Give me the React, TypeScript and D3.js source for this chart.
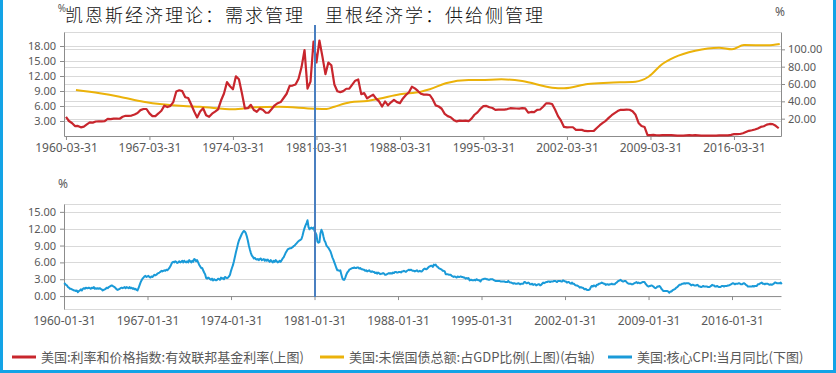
import React, { useEffect, useRef } from 'react';
import * as d3 from 'd3';

const W = 836;
const H = 373;

const title = '凯恩斯经济理论：需求管理　里根经济学：供给侧管理';

// effective fed funds rate, quarter-end months, 1960-03 .. 2019-12
const fedFundsStart = [1960, 2];
const fedFunds = [
  3.84, 3.0, 2.6, 1.98, 2.02, 1.73, 1.88, 2.33, 2.71, 2.68, 2.9, 2.93,
  2.93, 2.99, 3.44, 3.38, 3.48, 3.48, 3.45, 3.85, 4.04, 4.04, 4.08, 4.32,
  4.6, 5.17, 5.4, 5.4, 4.53, 3.98, 3.99, 4.51, 5.05, 6.07, 5.78, 6.02,
  6.79, 8.9, 9.15, 8.97, 7.76, 7.6, 6.29, 4.9, 3.71, 4.91, 5.55, 4.14,
  3.83, 4.46, 4.87, 5.33, 7.09, 8.49, 10.78, 9.95, 9.35, 11.93, 11.34, 8.53,
  5.54, 5.55, 6.24, 5.2, 4.84, 5.48, 5.25, 4.65, 4.69, 5.39, 6.14, 6.56,
  6.79, 7.6, 8.45, 10.03, 10.09, 10.29, 11.43, 13.78, 17.19, 9.47, 10.87, 18.9,
  14.7, 19.1, 15.87, 12.37, 14.68, 14.15, 10.31, 8.95, 8.77, 8.98, 9.45, 9.47,
  10.29, 11.06, 11.3, 8.38, 8.58, 7.53, 7.92, 8.27, 7.48, 6.92, 5.89, 6.91,
  6.13, 6.73, 7.22, 6.77, 6.58, 7.51, 8.19, 8.76, 9.85, 9.53, 9.01, 8.45,
  8.28, 8.29, 8.2, 7.31, 6.12, 5.9, 5.45, 4.43, 3.98, 3.76, 3.22, 2.92,
  3.07, 3.04, 3.09, 2.96, 3.48, 4.25, 4.73, 5.45, 5.98, 6.02, 5.74, 5.6,
  5.22, 5.27, 5.3, 5.29, 5.39, 5.56, 5.54, 5.5, 5.49, 5.56, 5.51, 4.68,
  4.81, 4.76, 5.22, 5.3, 5.85, 6.53, 6.52, 6.4, 5.31, 3.97, 3.07, 1.82,
  1.73, 1.75, 1.75, 1.24, 1.25, 1.22, 1.01, 0.98, 1.0, 1.03, 1.61, 2.16,
  2.63, 3.04, 3.62, 4.16, 4.59, 4.99, 5.25, 5.24, 5.26, 5.25, 4.94, 4.24,
  2.61, 2.0, 1.81, 0.16, 0.18, 0.21, 0.15, 0.12, 0.16, 0.18, 0.19, 0.18,
  0.14, 0.09, 0.08, 0.07, 0.13, 0.16, 0.14, 0.16, 0.14, 0.09, 0.08, 0.09,
  0.08, 0.1, 0.09, 0.12, 0.11, 0.13, 0.14, 0.24, 0.36, 0.38, 0.4, 0.54,
  0.79, 1.04, 1.15, 1.3, 1.51, 1.82, 1.95, 2.27, 2.41, 2.38, 2.04, 1.55,
];

// public debt as % of GDP (right axis)
const debtDates = [
  '1961-01-31', '1963-01-31', '1964-09-30', '1966-09-30', '1970-01-31', '1971-06-30',
  '1974-03-31', '1976-01-31', '1978-01-31', '1981-01-31', '1982-01-31', '1982-09-30',
  '1984-01-31', '1985-06-30', '1986-06-30', '1988-03-31', '1989-12-31', '1990-09-30',
  '1992-01-31', '1993-12-31', '1994-12-31', '1996-09-30', '1998-06-30', '2000-12-31',
  '2001-12-31', '2003-12-31', '2005-09-30', '2007-12-31', '2009-01-31', '2010-03-31',
  '2011-03-31', '2012-12-31', '2014-12-31', '2016-01-31', '2017-01-31', '2019-01-31',
  '2020-01-31',
];
const debtValues = [
  53.1, 49.3, 45.3, 39.6, 34.6, 33.8, 30.8, 33.1, 33.8, 31.5, 31.2, 33.8,
  38.9, 40.5, 43.0, 48.1, 51.1, 53.9, 60.8, 64.6, 64.6, 65.4, 63.5, 55.7,
  55.0, 60.0, 61.5, 62.7, 68.4, 83.1, 90.8, 98.4, 101.9, 100.0, 105.0, 104.6,
  106.2,
];

// core CPI yoy, monthly from 1960-01
const cpiStart = [1960, 0];
const coreCpi = [
  2.3, 2.2, 2.0, 1.9, 1.6, 1.5, 1.3, 1.3, 1.2, 1.1, 1.0, 1.0,
  0.9, 1.0, 0.7, 0.9, 1.0, 1.2, 1.0, 1.3, 1.4, 1.3, 1.5, 1.4,
  1.4, 1.5, 1.4, 1.3, 1.5, 1.4, 1.6, 1.3, 1.4, 1.3, 1.4, 1.3,
  1.4, 1.3, 1.2, 1.0, 1.1, 1.2, 1.3, 1.5, 1.4, 1.6, 1.7, 1.8,
  1.9, 1.8, 1.7, 1.6, 1.4, 1.2, 1.1, 1.2, 1.3, 1.4, 1.5, 1.4,
  1.5, 1.6, 1.4, 1.6, 1.5, 1.4, 1.6, 1.4, 1.5, 1.3, 1.4, 1.2,
  1.3, 1.1, 1.0, 1.4, 1.9, 2.4, 2.8, 3.1, 3.3, 3.5, 3.6, 3.4,
  3.5, 3.6, 3.4, 3.3, 3.5, 3.4, 3.6, 3.8, 3.7, 3.8, 4.0, 4.1,
  4.2, 4.3, 4.5, 4.4, 4.5, 4.6, 4.5, 4.7, 4.6, 4.8, 5.0, 5.3,
  5.7, 6.0, 6.1, 6.0, 6.2, 6.1, 5.9, 6.0, 6.2, 6.0, 6.1, 6.3,
  6.0, 6.3, 6.1, 6.0, 6.2, 6.0, 6.4, 6.2, 6.0, 6.3, 6.1, 6.6,
  6.5, 6.2, 6.4, 6.0, 5.6, 5.3, 5.0, 5.0, 4.6, 4.2, 3.9, 3.2,
  3.1, 3.3, 3.2, 3.0, 2.9, 3.1, 2.8, 3.0, 2.9, 2.8, 2.9, 3.1,
  3.0, 2.9, 3.3, 3.1, 3.2, 3.0, 3.4, 3.3, 3.2, 3.3, 3.5, 3.8,
  4.5, 5.0, 5.5, 6.2, 7.0, 7.8, 8.5, 9.3, 9.9, 10.3, 10.7, 11.1,
  11.4, 11.6, 11.5, 11.2, 10.6, 9.9, 9.0, 8.3, 7.7, 7.2, 7.0, 6.7,
  6.8, 6.6, 6.5, 6.6, 6.4, 6.6, 6.7, 6.4, 6.5, 6.6, 6.3, 6.5,
  6.3, 6.5, 6.3, 6.1, 6.4, 6.2, 6.0, 6.3, 6.1, 6.4, 6.2, 6.0,
  6.1, 6.3, 6.1, 6.4, 6.7, 6.9, 7.3, 7.7, 8.0, 8.3, 8.4, 8.5,
  8.5, 8.6, 8.7, 8.9, 9.0, 9.2, 9.4, 9.6, 9.8, 9.9, 10.0, 10.2,
  10.8, 11.5, 12.1, 12.6, 13.0, 13.5, 12.3, 11.9, 12.1, 12.2, 12.0, 12.2,
  11.6, 11.3, 10.9, 9.7, 9.5, 9.6, 11.2, 11.8, 11.4, 10.6, 9.9, 9.6,
  9.0, 8.8, 8.6, 8.3, 8.0, 7.5, 6.9, 6.5, 6.0, 5.5, 5.0, 4.6,
  4.6, 4.5, 4.6, 3.9, 3.2, 2.9, 2.9, 3.3, 3.8, 4.2, 4.4, 4.7,
  4.8, 4.9, 5.0, 5.0, 5.1, 5.0, 5.0, 5.1, 5.1, 4.9, 5.0, 4.8,
  4.8, 4.7, 4.7, 4.5, 4.6, 4.4, 4.5, 4.6, 4.4, 4.3, 4.4, 4.3,
  4.3, 4.1, 4.2, 4.0, 4.2, 4.1, 3.9, 4.0, 4.0, 4.1, 4.0, 3.8,
  3.8, 3.9, 4.0, 4.1, 4.0, 4.1, 4.0, 4.2, 4.1, 4.3, 4.3, 4.2,
  4.2, 4.3, 4.3, 4.2, 4.4, 4.4, 4.5, 4.4, 4.3, 4.5, 4.6, 4.7,
  4.6, 4.7, 4.6, 4.5, 4.5, 4.4, 4.5, 4.6, 4.4, 4.4, 4.5, 4.4,
  4.4, 4.6, 4.8, 4.9, 4.8, 4.8, 5.0, 5.2, 5.3, 5.4, 5.4, 5.2,
  5.6, 5.5, 5.6, 5.3, 5.2, 5.0, 4.9, 4.8, 4.7, 4.5, 4.5, 4.4,
  3.9, 3.9, 3.9, 3.8, 3.8, 3.8, 3.6, 3.5, 3.4, 3.5, 3.4, 3.3,
  3.5, 3.4, 3.4, 3.5, 3.4, 3.4, 3.3, 3.3, 3.1, 3.2, 3.1, 3.2,
  2.8, 2.9, 2.9, 2.8, 2.8, 2.9, 2.8, 3.0, 2.9, 2.8, 2.8, 2.6,
  2.9, 3.0, 3.0, 3.1, 3.1, 3.0, 3.0, 2.9, 2.9, 3.0, 3.0, 3.0,
  2.9, 2.8, 2.7, 2.7, 2.7, 2.7, 2.7, 2.6, 2.6, 2.6, 2.6, 2.6,
  2.5, 2.5, 2.5, 2.7, 2.5, 2.4, 2.4, 2.3, 2.2, 2.3, 2.2, 2.2,
  2.2, 2.3, 2.2, 2.1, 2.2, 2.2, 2.2, 2.5, 2.5, 2.3, 2.3, 2.4,
  2.3, 2.1, 2.1, 2.2, 2.0, 2.1, 2.1, 1.9, 2.0, 2.1, 2.1, 1.9,
  2.0, 2.2, 2.4, 2.3, 2.4, 2.5, 2.5, 2.6, 2.6, 2.5, 2.6, 2.6,
  2.6, 2.7, 2.7, 2.6, 2.5, 2.7, 2.7, 2.7, 2.6, 2.6, 2.8, 2.7,
  2.6, 2.6, 2.4, 2.5, 2.5, 2.3, 2.2, 2.4, 2.2, 2.2, 2.0, 1.9,
  1.9, 1.8, 1.7, 1.5, 1.6, 1.5, 1.5, 1.3, 1.2, 1.3, 1.1, 1.1,
  1.1, 1.2, 1.6, 1.8, 1.7, 1.9, 1.8, 1.7, 2.0, 2.0, 2.2, 2.2,
  2.3, 2.4, 2.3, 2.2, 2.2, 2.0, 2.1, 2.1, 2.0, 2.1, 2.1, 2.2,
  2.1, 2.1, 2.1, 2.3, 2.4, 2.6, 2.7, 2.8, 2.9, 2.7, 2.6, 2.6,
  2.7, 2.7, 2.5, 2.3, 2.2, 2.2, 2.2, 2.1, 2.1, 2.2, 2.3, 2.4,
  2.5, 2.3, 2.4, 2.3, 2.3, 2.4, 2.5, 2.5, 2.5, 2.2, 2.0, 1.8,
  1.7, 1.8, 1.8, 1.9, 1.8, 1.7, 1.5, 1.4, 1.5, 1.7, 1.7, 1.8,
  1.6, 1.3, 1.1, 0.9, 0.9, 0.9, 0.9, 0.9, 0.8, 0.6, 0.8, 0.8,
  1.0, 1.1, 1.2, 1.3, 1.5, 1.6, 1.8, 2.0, 2.0, 2.1, 2.2, 2.2,
  2.3, 2.2, 2.3, 2.3, 2.3, 2.2, 2.1, 1.9, 2.0, 2.0, 1.9, 1.9,
  1.9, 2.0, 1.9, 1.7, 1.7, 1.6, 1.7, 1.8, 1.7, 1.7, 1.7, 1.7,
  1.6, 1.6, 1.7, 1.8, 2.0, 1.9, 1.9, 1.7, 1.7, 1.8, 1.7, 1.6,
  1.6, 1.7, 1.8, 1.8, 1.7, 1.8, 1.8, 1.8, 1.9, 1.9, 2.0, 2.1,
  2.2, 2.3, 2.2, 2.1, 2.2, 2.2, 2.2, 2.3, 2.2, 2.1, 2.1, 2.2,
  2.3, 2.2, 2.0, 1.9, 1.7, 1.7, 1.7, 1.7, 1.7, 1.8, 1.7, 1.8,
  1.8, 1.8, 2.1, 2.1, 2.2, 2.3, 2.4, 2.2, 2.2, 2.1, 2.2, 2.2,
  2.2, 2.1, 2.0, 2.1, 2.0, 2.1, 2.2, 2.4, 2.4, 2.3, 2.3, 2.3,
  2.3, 2.4, 2.1,
];

const topTickLabels = ['1960-03-31', '1967-03-31', '1974-03-31', '1981-03-31', '1988-03-31', '1995-03-31', '2002-03-31', '2009-03-31', '2016-03-31'];
const bottomTickLabels = ['1960-01-31', '1967-01-31', '1974-01-31', '1981-01-31', '1988-01-31', '1995-01-31', '2002-01-31', '2009-01-31', '2016-01-31'];
const leftTopTicks = [3, 6, 9, 12, 15, 18];
const rightTopTicks = [20, 40, 60, 80, 100];
const bottomTicks = [0, 3, 6, 9, 12, 15];
const markerDate = '1981-03-01';

const seriesNames = [
  '美国:利率和价格指数:有效联邦基金利率(上图)',
  '美国:未偿国债总额:占GDP比例(上图)(右轴)',
  '美国:核心CPI:当月同比(下图)',
];
const seriesColors = ['#c8262d', '#ebb20a', '#1a9ad8'];

const FONT = '"Noto Sans", "Noto Sans CJK SC", sans-serif';

const App: React.FC = () => {
  const svgRef = useRef<SVGSVGElement>(null);

  useEffect(() => {
    if (!svgRef.current) return;
    const svg = d3.select(svgRef.current);
    svg.selectAll('*').remove();

    const left = 64;
    const right = 781;
    const top1 = 32, bot1 = 136;
    const top2 = 204, bot2 = 309;

    const parse = d3.utcParse('%Y-%m-%d');
    const x = d3.scaleUtc()
      .domain([parse('1960-01-31')!, parse('2020-03-10')!])
      .range([left, right]);

    const yL = d3.scaleLinear().domain([0, 20.8]).range([bot1, top1]);
    const yR = d3.scaleLinear().domain([0, 120]).range([bot1, top1]);
    const yB = d3.scaleLinear().domain([-2.3, 16.4]).range([bot2, top2]);

    const grid = '#d9d9d9';
    const axisColor = '#8c8c8c';
    const textColor = '#595959';

    // gridlines
    const gridG = svg.append('g').attr('stroke', grid).attr('stroke-width', 1);
    const hLines = [
      ...leftTopTicks.map(v => yL(v)),
      ...rightTopTicks.map(v => yR(v)),
      top1,
      ...bottomTicks.map(v => yB(v)),
      top2, bot2,
    ];
    gridG.selectAll('line').data(hLines).enter().append('line')
      .attr('x1', left).attr('x2', right)
      .attr('y1', d => Math.round(d) + 0.5).attr('y2', d => Math.round(d) + 0.5);

    const styleAxis = (size: number) => (g: d3.Selection<SVGGElement, unknown, null, undefined>) => {
      g.attr('color', axisColor).attr('font-family', FONT).attr('font-size', size);
      g.selectAll('text').attr('fill', textColor);
    };

    // top chart axes
    svg.append('g').attr('transform', `translate(${left},0)`)
      .call(d3.axisLeft(yL).tickValues(leftTopTicks).tickFormat(d3.format('.2f')).tickSize(4).tickSizeOuter(0).tickPadding(4))
      .call(styleAxis(11));
    svg.append('g').attr('transform', `translate(${right},0)`)
      .call(d3.axisRight(yR).tickValues(rightTopTicks).tickFormat(d3.format('.2f')).tickSize(4).tickSizeOuter(0).tickPadding(3))
      .call(styleAxis(11));
    const topDates = topTickLabels.map(s => parse(s)!);
    svg.append('g').attr('transform', `translate(0,${bot1})`)
      .call(d3.axisBottom(x).tickValues(topDates).tickFormat(d3.utcFormat('%Y-%m-%d') as any).tickSize(4).tickSizeOuter(0).tickPadding(3))
      .call(styleAxis(12));

    // bottom chart axes
    svg.append('g').attr('transform', `translate(${left},0)`)
      .call(d3.axisLeft(yB).tickValues(bottomTicks).tickFormat(d3.format('.2f')).tickSize(4).tickSizeOuter(0).tickPadding(4))
      .call(styleAxis(11));
    const botDates = bottomTickLabels.map(s => parse(s)!);
    svg.append('g').attr('transform', `translate(0,${yB(0)})`)
      .call(d3.axisBottom(x).tickValues(botDates).tickFormat(() => '').tickSize(4).tickSizeOuter(0))
      .call(styleAxis(12));
    const lab = svg.append('g').attr('transform', `translate(0,${bot2})`)
      .call(d3.axisBottom(x).tickValues(botDates).tickFormat(d3.utcFormat('%Y-%m-%d') as any).tickSize(0).tickPadding(7))
      .call(styleAxis(12));
    lab.select('.domain').remove();

    // series
    const ffData = fedFunds.map((v, i) => ({
      d: new Date(Date.UTC(fedFundsStart[0], fedFundsStart[1] + 3 * i + 1, 0)), v,
    }));
    const debtData = debtDates.map((s, i) => ({ d: parse(s)!, v: debtValues[i] }));
    const cpiData = coreCpi.map((v, i) => ({
      d: new Date(Date.UTC(cpiStart[0], cpiStart[1] + i + 1, 0)), v,
    }));

    const lineL = d3.line<{ d: Date; v: number }>().x(p => x(p.d)).y(p => yL(p.v));
    const lineR = d3.line<{ d: Date; v: number }>().x(p => x(p.d)).y(p => yR(p.v)).curve(d3.curveMonotoneX);
    const lineB = d3.line<{ d: Date; v: number }>().x(p => x(p.d)).y(p => yB(p.v));

    svg.append('path').datum(debtData).attr('d', lineR)
      .attr('fill', 'none').attr('stroke', seriesColors[1]).attr('stroke-width', 2);
    svg.append('path').datum(ffData).attr('d', lineL)
      .attr('fill', 'none').attr('stroke', seriesColors[0]).attr('stroke-width', 2.2).attr('stroke-linejoin', 'round');
    svg.append('path').datum(cpiData).attr('d', lineB)
      .attr('fill', 'none').attr('stroke', seriesColors[2]).attr('stroke-width', 2).attr('stroke-linejoin', 'round');

    // unit labels
    svg.append('text').attr('x', 62).attr('y', 12).attr('text-anchor', 'middle')
      .attr('font-family', FONT).attr('font-size', 10).attr('fill', textColor).text('%');
    svg.append('text').attr('x', 780).attr('y', 16).attr('text-anchor', 'middle')
      .attr('font-family', FONT).attr('font-size', 12).attr('fill', textColor).text('%');
    svg.append('text').attr('x', 63).attr('y', 188).attr('text-anchor', 'middle')
      .attr('font-family', FONT).attr('font-size', 12).attr('fill', textColor).text('%');

    // title
    svg.append('text').attr('x', 65).attr('y', 22)
      .attr('font-family', '"Noto Sans CJK SC", sans-serif').attr('font-size', 18)
      .attr('font-weight', 300).attr('letter-spacing', 2).attr('fill', '#111').text(title);

    // Reagan marker
    const mx = Math.round(x(parse(markerDate)!));
    svg.append('line').attr('x1', mx).attr('x2', mx).attr('y1', 25).attr('y2', yB(0) + 1)
      .attr('stroke', '#4a7fc0').attr('stroke-width', 2);

    // legend
    const legendX = [12, 320, 608];
    const lg = svg.append('g').attr('font-family', '"Noto Sans CJK SC", sans-serif').attr('font-size', 13);
    seriesNames.forEach((name, i) => {
      lg.append('line').attr('x1', legendX[i]).attr('x2', legendX[i] + 24)
        .attr('y1', 357).attr('y2', 357).attr('stroke', seriesColors[i]).attr('stroke-width', 3);
      lg.append('text').attr('x', legendX[i] + 29).attr('y', 361.5).attr('fill', textColor).text(name);
    });

    // frame
    svg.append('path').attr('d', `M1.5,0 V371.5 H834.5 V0`)
      .attr('fill', 'none').attr('stroke', '#13a3e6').attr('stroke-width', 3);
  }, []);

  return (
    <svg ref={svgRef} width={W} height={H}
      style={{ position: 'absolute', left: 0, top: 0, background: '#fff' }} />
  );
};

export default App;
